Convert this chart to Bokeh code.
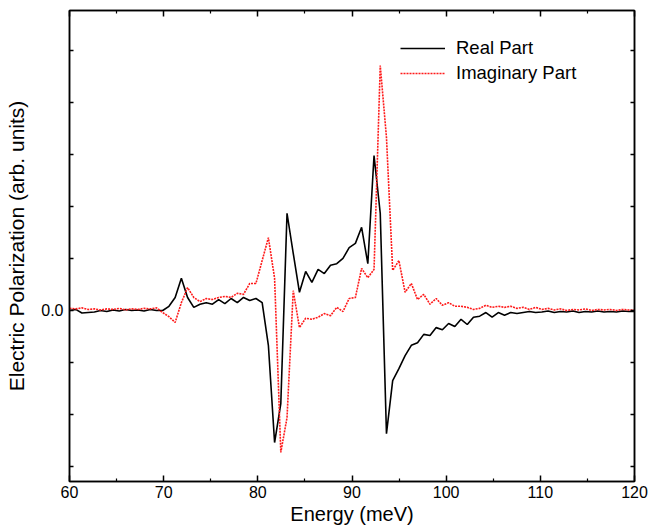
from bokeh.plotting import figure
from bokeh.models import (LinearAxis, FixedTicker, CustomJSTickFormatter,
                          Legend, LegendItem, Range1d)
from bokeh.embed import file_html
from bokeh.resources import INLINE

# ---- data ----
energy = [60.00, 60.66, 61.32, 61.98, 62.64, 63.30, 63.96, 64.62, 65.28, 65.94,
          66.60, 67.26, 67.92, 68.58, 69.24, 69.90, 70.56, 71.22, 71.88, 72.54,
          73.20, 73.86, 74.52, 75.18, 75.84, 76.50, 77.16, 77.82, 78.48, 79.14,
          79.80, 80.46, 81.12, 81.78, 82.44, 83.10, 83.76, 84.42, 85.08, 85.74,
          86.40, 87.06, 87.72, 88.38, 89.04, 89.70, 90.36, 91.02, 91.68, 92.34,
          93.00, 93.66, 94.32, 94.98, 95.64, 96.30, 96.96, 97.62, 98.28, 98.94,
          99.60, 100.26, 100.92, 101.58, 102.24, 102.90, 103.56, 104.22, 104.88, 105.54,
          106.20, 106.86, 107.52, 108.18, 108.84, 109.50, 110.16, 110.82, 111.48, 112.14,
          112.80, 113.46, 114.12, 114.78, 115.44, 116.10, 116.76, 117.42, 118.08, 118.74,
          119.40, 120.06]

real_part = [0.00, 0.02, -0.05, -0.04, -0.03, 0.00, -0.02, 0.01, -0.01, 0.02,
             0.00, 0.01, -0.01, 0.02, 0.00,
             0.00, 0.08, 0.25, 0.62, 0.25, 0.06, 0.12, 0.15, 0.12, 0.21,
             0.13, 0.23, 0.15, 0.25, 0.19, 0.23, 0.15,
             -0.67, -2.54, -1.79, 1.87, 1.10, 0.35, 0.75, 0.54, 0.79,
             0.71, 0.87, 0.90, 1.00, 1.21, 1.29, 1.60, 0.90,
             2.98, 1.87, -2.37, -1.35, -1.12, -0.87, -0.67, -0.62, -0.46,
             -0.48, -0.33, -0.37, -0.25, -0.31, -0.17, -0.27, -0.13,
             -0.11, -0.04, -0.13, -0.04, -0.09, -0.04, -0.06, -0.04, -0.02, -0.04,
             -0.03, -0.01, -0.04, -0.02, -0.03, -0.01, -0.04, -0.02, -0.03, -0.01,
             -0.03, -0.02, -0.03, -0.01, -0.02, -0.02]

imag_part = [0.04, 0.03, 0.05, 0.02, 0.03, 0.01, 0.03, 0.02, 0.04, 0.01,
             0.03, 0.02, 0.04, 0.03, 0.05,
             -0.04, -0.12, -0.23, 0.15, 0.44, 0.25, 0.17, 0.23, 0.21, 0.25,
             0.27, 0.25, 0.33, 0.31, 0.52, 0.52, 0.96,
             1.40, 0.62, -2.73, -2.06, 0.38, -0.33, -0.15, -0.17, -0.13,
             -0.06, -0.10, 0.06, -0.02, 0.23, 0.25, 0.81, 0.63,
             0.79, 4.71, 3.33, 0.77, 0.96, 0.35, 0.52, 0.21, 0.31,
             0.12, 0.23, 0.10, 0.15, 0.08, 0.08, 0.06, 0.02,
             0.04, 0.10, 0.06, 0.08, 0.06, 0.08, 0.04, 0.06, 0.02, 0.06,
             0.02, 0.04, 0.01, 0.03, 0.00, 0.02, 0.01, 0.03, 0.00, 0.02,
             0.01, 0.02, 0.00, 0.02, 0.01, 0.01]

x_major = [60, 70, 80, 90, 100, 110, 120]
x_minor = [65, 75, 85, 95, 105, 115]
y_major = [-3, -2, -1, 0, 1, 2, 3, 4, 5]

FONT = "Liberation Sans"

p = figure(width=649, height=529, output_backend="svg", toolbar_location=None,
           x_range=Range1d(60, 120), y_range=Range1d(-3.29, 5.77),
           min_border_left=69, min_border_right=15, min_border_top=10,
           min_border_bottom=48, x_axis_label="Energy (meV)",
           y_axis_label="Electric Polarization (arb. units)")
p.grid.visible = False
p.outline_line_color = "black"
p.outline_line_width = 1.5
p.background_fill_color = "white"
p.border_fill_color = "white"

r1 = p.line(energy, real_part, line_color="black", line_width=1.6)
r2 = p.line(energy, imag_part, line_color="#ff1a1a", line_width=1.6,
            line_dash="2 1")


def style(ax, ticks, minor, fmt_code, label_size="16px", title_size="20px"):
    ax.ticker = FixedTicker(ticks=ticks, minor_ticks=minor)
    ax.formatter = CustomJSTickFormatter(code=fmt_code)
    ax.axis_line_color = "black"
    ax.axis_line_width = 1.5
    ax.major_tick_in = 6
    ax.major_tick_out = 0
    ax.minor_tick_in = 3
    ax.minor_tick_out = 0
    ax.major_tick_line_width = 1.5
    ax.minor_tick_line_width = 1.2
    ax.major_tick_line_color = "black"
    ax.minor_tick_line_color = "black"
    ax.major_label_text_font = FONT
    ax.major_label_text_font_size = label_size
    ax.major_label_text_color = "black"
    ax.axis_label_text_font = FONT
    ax.axis_label_text_font_size = title_size
    ax.axis_label_text_font_style = "normal"
    ax.axis_label_text_color = "black"


xb = p.xaxis[0]
style(xb, x_major, x_minor, "return tick.toFixed(0);")
xb.major_label_standoff = 4
xb.axis_label_standoff = 2

yl = p.yaxis[0]
style(yl, y_major, [], "return tick == 0 ? '0.0' : '';", title_size="21px")
yl.major_label_standoff = 6
yl.axis_label_standoff = 10
yl.major_tick_in = 4

xt = LinearAxis()
style(xt, x_major, x_minor, "return '';", label_size="0px")
xt.major_label_standoff = 0
p.add_layout(xt, "above")

yr = LinearAxis()
style(yr, y_major, [], "return '';", label_size="0px")
yr.major_label_standoff = 0
yr.major_tick_in = 4
p.add_layout(yr, "right")

legend = Legend(items=[LegendItem(label="Real Part", renderers=[r1]),
                       LegendItem(label="Imaginary Part", renderers=[r2])],
                location=(331, 397))
legend.border_line_color = None
legend.background_fill_alpha = 0
legend.glyph_width = 45
legend.glyph_height = 20
legend.label_height = 20
legend.label_standoff = 11
legend.spacing = 3
legend.padding = 0
legend.margin = 0
legend.label_text_font = FONT
legend.label_text_font_size = "18.5px"
legend.label_text_color = "black"
p.add_layout(legend)

open("out.html", "w").write(file_html(p, INLINE))
